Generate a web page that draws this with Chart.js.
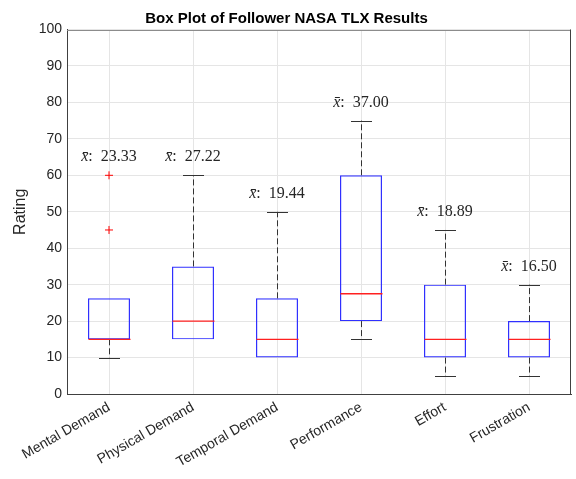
<!DOCTYPE html>
<html>
<head>
<meta charset="utf-8">
<script src="https://cdn.jsdelivr.net/npm/chart.js@4.4.0/dist/chart.umd.min.js"></script>
<style>
  html, body { margin: 0; padding: 0; background: #fff; }
  #wrap { width: 576px; height: 479px; }
</style>
</head>
<body>
<div id="wrap"><canvas id="boxChart" width="576" height="479"></canvas></div>
<script>
// data
const categories = ["Mental Demand", "Physical Demand", "Temporal Demand", "Performance", "Effort", "Frustration"];
const whiskerLow = [10, 15, 10, 15, 5, 5];
const q1 = [15, 15, 10, 20, 10, 10];
const median = [15, 20, 15, 27.5, 15, 15];
const q3 = [26.25, 35, 26.25, 60, 30, 20];
const whiskerHigh = [26.25, 60, 50, 75, 45, 30];
const means = [23.33, 27.22, 19.44, 37.00, 18.89, 16.50];
const outliers = [[45, 60], [], [], [], [], []];
const yTicks = [0, 10, 20, 30, 40, 50, 60, 70, 80, 90, 100];

const outlierPoints = [];
outliers.forEach((vals, i) => vals.forEach(v => outlierPoints.push({ x: categories[i], y: v })));

//#region box plot extras (whiskers, medians, mean labels, frame)
const boxExtras = {
  id: "boxExtras",
  afterDatasetsDraw(chart) {
    const ctx = chart.ctx;
    const xs = chart.scales.x;
    const ys = chart.scales.y;
    const bars = chart.getDatasetMeta(0).data;
    ctx.save();
    categories.forEach((c, i) => {
      const cx = Math.round(xs.getPixelForValue(i)) + 0.5;
      const half = bars[i].width / 2;
      const capHalf = half / 2;

      // dashed whiskers + caps
      ctx.strokeStyle = "#333";
      ctx.lineWidth = 1;
      if (whiskerHigh[i] > q3[i]) {
        ctx.setLineDash([6, 3]);
        ctx.beginPath();
        ctx.moveTo(cx, ys.getPixelForValue(q3[i]));
        ctx.lineTo(cx, ys.getPixelForValue(whiskerHigh[i]));
        ctx.stroke();
        ctx.setLineDash([]);
        const py = Math.round(ys.getPixelForValue(whiskerHigh[i])) + 0.5;
        ctx.beginPath();
        ctx.moveTo(cx - capHalf, py);
        ctx.lineTo(cx + capHalf, py);
        ctx.stroke();
      }
      if (whiskerLow[i] < q1[i]) {
        ctx.setLineDash([6, 3]);
        ctx.beginPath();
        ctx.moveTo(cx, ys.getPixelForValue(q1[i]));
        ctx.lineTo(cx, ys.getPixelForValue(whiskerLow[i]));
        ctx.stroke();
        ctx.setLineDash([]);
        const py = Math.round(ys.getPixelForValue(whiskerLow[i])) + 0.5;
        ctx.beginPath();
        ctx.moveTo(cx - capHalf, py);
        ctx.lineTo(cx + capHalf, py);
        ctx.stroke();
      }

      // median
      ctx.strokeStyle = "#ff2020";
      ctx.lineWidth = 1.3;
      ctx.beginPath();
      const my = ys.getPixelForValue(median[i]);
      ctx.moveTo(cx - half, my);
      ctx.lineTo(cx + half, my);
      ctx.stroke();

      // mean label above the highest mark
      const top = Math.max(whiskerHigh[i], ...outliers[i]);
      const ly = ys.getPixelForValue(top + 5);
      const rest = ":  " + means[i].toFixed(2);
      ctx.fillStyle = "#262626";
      ctx.textBaseline = "middle";
      ctx.font = "italic 16px 'Liberation Serif'";
      const xbar = "x\u0304";
      const w1 = ctx.measureText(xbar).width;
      ctx.font = "16px 'Liberation Serif'";
      const w2 = ctx.measureText(rest).width;
      const sx = xs.getPixelForValue(i) - (w1 + w2) / 2;
      ctx.font = "italic 16px 'Liberation Serif'";
      ctx.textAlign = "left";
      ctx.fillText(xbar, sx, ly);
      ctx.font = "16px 'Liberation Serif'";
      ctx.fillText(rest, sx + w1, ly);
    });

    // top and right edges of the axes box
    const a = chart.chartArea;
    ctx.lineWidth = 1;
    ctx.strokeStyle = "#8c8c8c";
    ctx.beginPath();
    ctx.moveTo(a.left, Math.round(a.top) + 0.5);
    ctx.lineTo(a.right, Math.round(a.top) + 0.5);
    ctx.stroke();
    ctx.strokeStyle = "#404040";
    ctx.beginPath();
    ctx.moveTo(Math.round(a.right) - 0.5, a.top);
    ctx.lineTo(Math.round(a.right) - 0.5, a.bottom);
    ctx.stroke();
    ctx.restore();
  }
};
//#endregion

const ctxBox = document.getElementById("boxChart").getContext("2d");
new Chart(ctxBox, {
  type: "bar",
  data: {
    labels: categories,
    datasets: [
      {
        data: categories.map((c, i) => [q1[i], q3[i]]),
        backgroundColor: "rgba(0,0,0,0)",
        borderColor: "#3030ff",
        borderWidth: 1.2,
        borderSkipped: false,
        barPercentage: 0.5,
        categoryPercentage: 1.0,
        order: 2
      },
      {
        type: "scatter",
        data: outlierPoints,
        pointStyle: "cross",
        pointRadius: 4,
        pointBorderColor: "#ff0000",
        pointBackgroundColor: "#ff0000",
        pointBorderWidth: 1,
        order: 1
      }
    ]
  },
  options: {
    responsive: false,
    animation: false,
    layout: { padding: { left: 0, right: 3, top: 0, bottom: 0 } },
    scales: {
      x: {
        type: "category",
        offset: true,
        grid: { color: "#e5e5e5", offset: false, drawTicks: false },
        border: { color: "#404040" },
        ticks: {
          minRotation: 30,
          maxRotation: 30,
          padding: 5,
          color: "#262626",
          font: { family: "'Liberation Sans', Arial", size: 14 }
        },
        afterFit(scale) {
          scale.height = 85;
          scale.paddingLeft = 0;
          scale.paddingRight = 0;
        }
      },
      y: {
        min: 0,
        max: 100,
        afterBuildTicks(scale) { scale.ticks = yTicks.map(v => ({ value: v })); },
        grid: { color: "#e5e5e5", drawTicks: false },
        border: { color: "#404040" },
        ticks: {
          padding: 5,
          color: "#262626",
          font: { family: "'Liberation Sans', Arial", size: 14 }
        },
        title: {
          display: true,
          text: "Rating",
          color: "#262626",
          padding: { top: 11, bottom: 0 },
          font: { family: "'Liberation Sans', Arial", size: 16 }
        },
        afterFit(scale) { scale.width = 67; }
      }
    },
    plugins: {
      legend: { display: false },
      tooltip: { enabled: false },
      title: {
        display: true,
        text: "Box Plot of Follower NASA TLX Results",
        color: "#000",
        padding: { top: 10, bottom: 1.5 },
        font: { family: "'Liberation Sans', Arial", size: 15, weight: "bold" }
      }
    }
  },
  plugins: [boxExtras]
});
</script>
</body>
</html>
